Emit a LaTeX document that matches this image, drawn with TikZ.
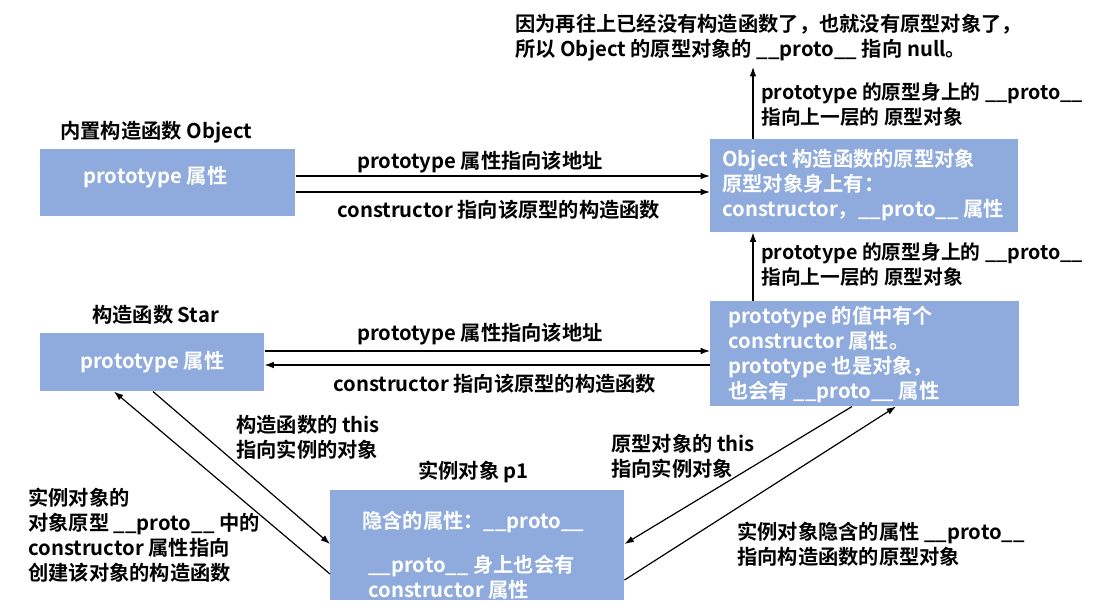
\documentclass[tikz,border=0pt]{standalone}
\usepackage{fontspec}
\setmainfont{Noto Sans CJK SC}[BoldFont={Noto Sans CJK SC Bold}]
\usetikzlibrary{arrows.meta}
\definecolor{boxblue}{HTML}{8FAADC}

\begin{document}
\begin{tikzpicture}[x=0.75pt,y=-0.75pt,
	box/.style={fill=boxblue, inner sep=0pt, anchor=north west},
	lbl/.style={inner sep=0pt, anchor=west, align=left, font=\bfseries\fontsize{15.2}{18.75}\selectfont},
	uplbl/.style={lbl, font=\bfseries\fontsize{14.8}{18.75}\selectfont},
	intext/.style={lbl, text=white},
	arr/.style={-{Latex[length=7pt,width=5pt]}, line width=0.9pt}]
	\useasboundingbox (0,0) rectangle (1093,613);
	% boxes
	\node [box, minimum width=191.25pt, minimum height=50.25pt] (objbox) at (40,149) {};
	\node [box, minimum width=231pt, minimum height=69.75pt] (objproto) at (710,139) {};
	\node [box, minimum width=168pt, minimum height=43.5pt] (starbox) at (40,333) {};
	\node [box, minimum width=231.75pt, minimum height=78.75pt] (starproto) at (710,301) {};
	\node [box, minimum width=220.5pt, minimum height=82.5pt] (inst) at (330,490) {};
	% texts in boxes
	\node [intext] (objprop) at (83,177) {prototype 属性};
	\node [intext] (objprototext) at (722,185) {Object 构造函数的原型对象\\原型对象身上有：\\constructor，\_\_proto\_\_ 属性};
	\node [intext] (starprop) at (80,362) {prototype 属性};
	\node [intext] (starprototext) at (728,355) {prototype 的值中有个\\constructor 属性。\\prototype 也是对象，\\也会有 \_\_proto\_\_ 属性};
	\node [intext] (insttext1) at (362,522) {隐含的属性：\_\_proto\_\_};
	\node [intext] (insttext2) at (368,577) {\_\_proto\_\_ 身上也会有\\constructor 属性};
	% titles and notes
	\node [lbl] (objtitle) at (60,132) {内置构造函数 Object};
	\node [lbl] (startitle) at (92,315) {构造函数 Star};
	\node [lbl] (insttitle) at (418,472) {实例对象 p1};
	\node [lbl] (nullnote) at (515,37.5) {因为再往上已经没有构造函数了，也就没有原型对象了，\\所以 Object 的原型对象的 \_\_proto\_\_ 指向 null。};
	\node [uplbl] (uplabel1) at (761,104.5) {prototype 的原型身上的 \_\_proto\_\_\\指向上一层的 原型对象};
	\node [uplbl] (uplabel2) at (761,265) {prototype 的原型身上的 \_\_proto\_\_\\指向上一层的 原型对象};
	\node [lbl] (toplabel1) at (357,162) {prototype 属性指向该地址};
	\node [lbl] (toplabel2) at (337,210) {constructor 指向该原型的构造函数};
	\node [lbl] (midlabel1) at (357,334) {prototype 属性指向该地址};
	\node [lbl] (midlabel2) at (333,384) {constructor 指向该原型的构造函数};
	\node [lbl] (thislabel) at (236,437) {构造函数的 this\\指向实例的对象};
	\node [lbl] (ctorlabel) at (28,535.5) {实例对象的\\对象原型 \_\_proto\_\_ 中的\\constructor 属性指向\\创建该对象的构造函数};
	\node [lbl] (protothis) at (611,456) {原型对象的 this\\指向实例对象};
	\node [lbl] (protolabel) at (737,544) {实例对象隐含的属性 \_\_proto\_\_\\指向构造函数的原型对象};
	\coordinate (nullend) at (753,67);
	% connectors
	\draw [arr] (objbox.east |- 0,176) -- (objproto.west |- 0,176);
	\draw [arr] (objbox.east |- 0,192) -- (objproto.west |- 0,192);
	\draw [arr] (starbox.east |- 0,351) -- (starproto.west |- 0,351);
	\draw [arr] (starproto.west |- 0,365) -- (starbox.east |- 0,365);
	\draw [arr] (objproto.north -| 753,0) -- (nullend);
	\draw [arr] (starproto.north -| 753,0) -- (objproto.south -| 753,0);
	\draw [arr] (starbox.south -| 153,0) -- (inst.west |- 0,544);
	\draw [arr] (inst.west |- 0,574) -- (starbox.south -| 114,0);
	\draw [arr] (starproto.south -| 852,0) -- (inst.east |- 0,544);
	\draw [arr] (inst.east |- 0,580) -- (starproto.south -| 896,0);
\end{tikzpicture}
\end{document}
